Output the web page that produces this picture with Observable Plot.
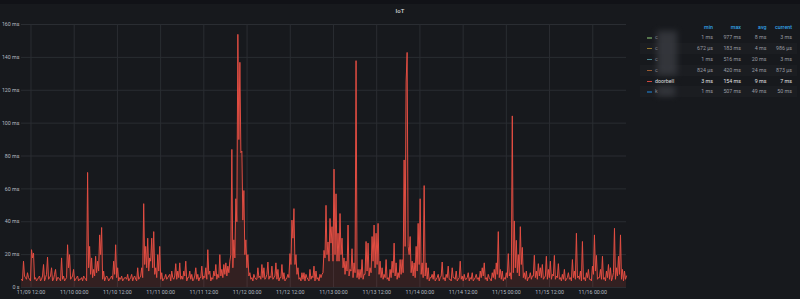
<!DOCTYPE html>
<html>
<head>
<meta charset="utf-8">
<script src="https://cdn.jsdelivr.net/npm/d3@7"></script>
<script src="https://cdn.jsdelivr.net/npm/@observablehq/plot@0.6"></script>
<style>
  html, body { margin: 0; padding: 0; background: #111217; }
  #wrap { position: relative; width: 800px; height: 299px; overflow: hidden; font-family: Roboto, "Noto Sans", sans-serif; }
  #panel { position: absolute; left: 0; top: 4px; width: 800px; height: 295px; background: #17191d; }
  #chart { position: absolute; left: 0; top: 0; }
  #title { position: absolute; left: 0; width: 800px; top: 7px; text-align: center; font-size: 6px; font-weight: 500; color: #d8d9da; }
  .row { position: absolute; left: 640px; width: 157px; height: 10.8px; line-height: 10.8px; font-size: 5.3px; }
  .row.alt { background: #1b1d21; }
  .cell { position: absolute; text-align: right; width: 30px; }
  .hdr { color: #33a2e5; font-weight: 500; }
  .dash { position: absolute; left: 7px; top: 5px; width: 5px; height: 1.2px; }
  .name { position: absolute; left: 15px; }
  .blur { position: absolute; background: #3a3c42; filter: blur(3px); opacity: 0.8; }
</style>
</head>
<body>
<div id="wrap">
  <div id="panel"></div>
  <div id="chart"></div>
  <div id="title"></div>
  <div id="legend"></div>
</div>
<script>
// ---- data ----
const panelTitle = "IoT";
const startTime = "2021-11-09T09:22:00Z";
const endTime = "2021-11-16T09:22:00Z";

// doorbell latency (ms): samples at even positions across the time range
const doorbellMs = [
  5,16,6,9,5,23,21,6,5,7,
  5,14,6,18.5,6,12,5,11,6,5,
  18,7,5,26,20,6,11,5,7,5,
  6,7,5,70,25,18,11,19,16,32,
  36.5,10,6,6,5,7,16,26,12,6,
  7,5,6,8,5,8,6,5,12,6,
  12,51,25,30,18,30,34,12,20,25,
  9,5,8,6,8,10,5,14.5,10,15,
  7,10,16,6,10,8,5,12,8,6,
  13,7,12,23,10,6,10,14,8,20,
  11,14,15,13,16,84,29,54,154,137,
  83,59,29,20,9,6,8,5,12,7,
  14,12,6,15.5,7,13,6,15,11,6,
  14,9,5,8,20.6,41,48,20,12,6,
  9,9,8,5,11,7,13,10,6,8,
  8,22.6,50,27.7,42,37,72,57,33,45,
  30,18,16,38,11,23.6,15,138,11,11,
  17,8,28,27,12,31,38,33,39,16,
  12,8,17,6,11,16,27,15,9,17,
  17,77.6,125,25,31,16,15,25,39,54,
  15,62,15,12,6,8,10,5,8,6,
  15.5,6,8,13,5,12,6,10,5,16,
  7,8,5,9,6,9,5,8,6,10,
  12,15,6,8,5,9,11,15,34,11,
  10,6,9,20.6,9,104.4,40.5,28.7,20,37,
  24.4,9,10,6,9,7,19.6,10,14.5,12,
  14,6,19,11,16,8,19.5,7,14.5,6,
  8,11,5,9,6,17,10,33,7,10,
  28,6,9,11,5,13,32,19.5,6,11,
  19,6,10,14,12,6,36,12,19,32,
  11,10,7
];
// doorbell latency (ms): samples in between the ones above
const doorbellMidMs = [
  4,7,5,6,4,18,5,4,6,4,
  7,4,8,5,7,4,8,4,6,4,
  5,4,6,12,5,7,4,6,4,5,
  4,6,4,12,8,6,7,9,10,20,
  5,4,7,4,6,5,8,6,4,5,
  4,6,5,4,6,4,7,4,5,7,
  6,14,12,10,16,12,8,6,10,5,
  4,6,5,7,4,6,7,5,6,5,
  5,7,4,6,5,4,7,5,4,6,
  5,6,5,8,4,5,7,5,6,7,
  6,8,7,9,20,12,18,40,90,82,
  41,20,12,7,5,4,6,5,6,5,
  6,5,8,5,6,5,7,5,4,6,
  5,4,6,6,14,30,14,8,5,4,
  5,4,6,4,5,6,4,5,4,6,
  9,18,20,16,27,16,20,16,16,20,
  12,8,10,7,10,6,9,6,5,6,
  5,8,10,7,9,16,12,14,8,6,
  5,6,5,4,6,9,7,5,6,8,
  9,25,143,20,9,7,6,10,14,8,
  6,7,5,4,6,5,4,6,4,7,
  5,4,6,5,4,6,5,4,6,5,
  4,5,6,4,5,4,6,5,4,6,
  7,5,4,6,4,6,5,8,6,5,
  4,5,6,7,5,9,12,9,7,14,
  6,5,4,6,5,7,6,5,7,6,
  5,7,5,6,5,7,5,6,5,4,
  5,4,6,5,4,6,5,6,5,4,
  5,4,6,5,4,8,10,5,6,5,
  5,4,6,5,4,9,5,7,8,5,
  4,5
];

const yTicks = [0, 20, 40, 60, 80, 100, 120, 140, 160];
const yTickLabels = ["0 s", "20 ms", "40 ms", "60 ms", "80 ms", "100 ms", "120 ms", "140 ms", "160 ms"];
const xTickLabels = ["11/09 12:00", "11/10 00:00", "11/10 12:00", "11/11 00:00", "11/11 12:00",
  "11/12 00:00", "11/12 12:00", "11/13 00:00", "11/13 12:00", "11/14 00:00", "11/14 12:00",
  "11/15 00:00", "11/15 12:00", "11/16 00:00"];

// legend table
const legendHeaders = ["min", "max", "avg", "current"];
const seriesNames = ["c", "c", "c", "c", "doorbell", "k"];
const seriesColors = ["#7eb26d", "#eab839", "#6ed0e0", "#ef843c", "#e24d42", "#1f78c1"];
const seriesMin = ["1 ms", "672 µs", "1 ms", "824 µs", "3 ms", "1 ms"];
const seriesMax = ["977 ms", "183 ms", "516 ms", "420 ms", "154 ms", "507 ms"];
const seriesAvg = ["8 ms", "4 ms", "20 ms", "24 ms", "9 ms", "49 ms"];
const seriesCurrent = ["3 ms", "986 µs", "3 ms", "873 µs", "7 ms", "50 ms"];
const activeSeries = "doorbell";

// ---- build ----
const t0 = new Date(startTime), t1 = new Date(endTime);
const values = [];
doorbellMs.forEach((v, i) => {
  values.push(v);
  if (i < doorbellMidMs.length) values.push(doorbellMidMs[i]);
});
const n = values.length;
const data = values.map((v, i) => ({t: new Date(+t0 + (t1 - t0) * i / (n - 1)), v}));
const parseTick = d3.utcParse("%Y/%m/%d %H:%M");
const xTicks = xTickLabels.map(s => parseTick("2021/" + s));
const xLabelOf = new Map(xTicks.map((d, i) => [+d, xTickLabels[i]]));
const yLabelOf = new Map(yTicks.map((d, i) => [d, yTickLabels[i]]));

const lineColor = seriesColors[seriesNames.indexOf(activeSeries)];
const gridColor = "#2a2d32";

const chart = Plot.plot({
  width: 800,
  height: 299,
  marginLeft: 21,
  marginRight: 174,
  marginTop: 24,
  marginBottom: 12,
  style: {background: "transparent", color: "#b4b9c0", fontFamily: "Roboto, sans-serif", fontSize: "5.3px"},
  x: {type: "utc", domain: [t0, t1], ticks: xTicks, tickFormat: d => xLabelOf.get(+d), tickSize: 0, tickPadding: 3, label: null},
  y: {domain: [0, 160], ticks: yTicks, tickFormat: d => yLabelOf.get(d), tickSize: 0, tickPadding: 2, label: null},
  marks: [
    Plot.ruleY(yTicks, {stroke: gridColor, strokeWidth: 1}),
    Plot.ruleX(xTicks, {stroke: gridColor, strokeWidth: 1}),
    Plot.areaY(data, {x: "t", y: "v", fill: lineColor, fillOpacity: 0.14}),
    Plot.lineY(data, {x: "t", y: "v", stroke: lineColor, strokeWidth: 1})
  ]
});
document.getElementById("chart").appendChild(chart);
document.getElementById("title").textContent = panelTitle;

// legend
const legend = document.getElementById("legend");
const colRight = [713, 741, 766.5, 792];
const rowCenter0 = 27, rowStep = 10.8;
function addRow(k, cells, opts) {
  const row = document.createElement("div");
  row.className = "row" + (opts.alt ? " alt" : "");
  row.style.top = (rowCenter0 + k * rowStep - rowStep / 2) + "px";
  if (opts.color) {
    const dash = document.createElement("div");
    dash.className = "dash";
    dash.style.background = opts.color;
    dash.style.opacity = opts.active ? 0.9 : 0.6;
    row.appendChild(dash);
  }
  if (opts.name != null) {
    const nm = document.createElement("span");
    nm.className = "name";
    nm.textContent = opts.name;
    nm.style.color = opts.textColor;
    row.appendChild(nm);
  }
  cells.forEach((c, j) => {
    const s = document.createElement("span");
    s.className = "cell" + (opts.header ? " hdr" : "");
    s.style.left = (colRight[j] - 640 - 30) + "px";
    s.textContent = c;
    if (!opts.header) s.style.color = opts.textColor;
    row.appendChild(s);
  });
  legend.appendChild(row);
}
addRow(0, legendHeaders, {header: true});
seriesNames.forEach((name, i) => {
  const active = name === activeSeries;
  addRow(i + 1, [seriesMin[i], seriesMax[i], seriesAvg[i], seriesCurrent[i]], {
    alt: i % 2 === 1,
    color: seriesColors[i],
    name,
    active,
    textColor: active ? "#e3e4e6" : "#9a9ca2"
  });
});
// redaction smears over hidden names
[[657, 31, 20, 44], [657, 86, 18, 10]].forEach(([x, y, w, h]) => {
  const b = document.createElement("div");
  b.className = "blur";
  b.style.left = x + "px"; b.style.top = y + "px"; b.style.width = w + "px"; b.style.height = h + "px";
  legend.appendChild(b);
});
</script>
</body>
</html>
